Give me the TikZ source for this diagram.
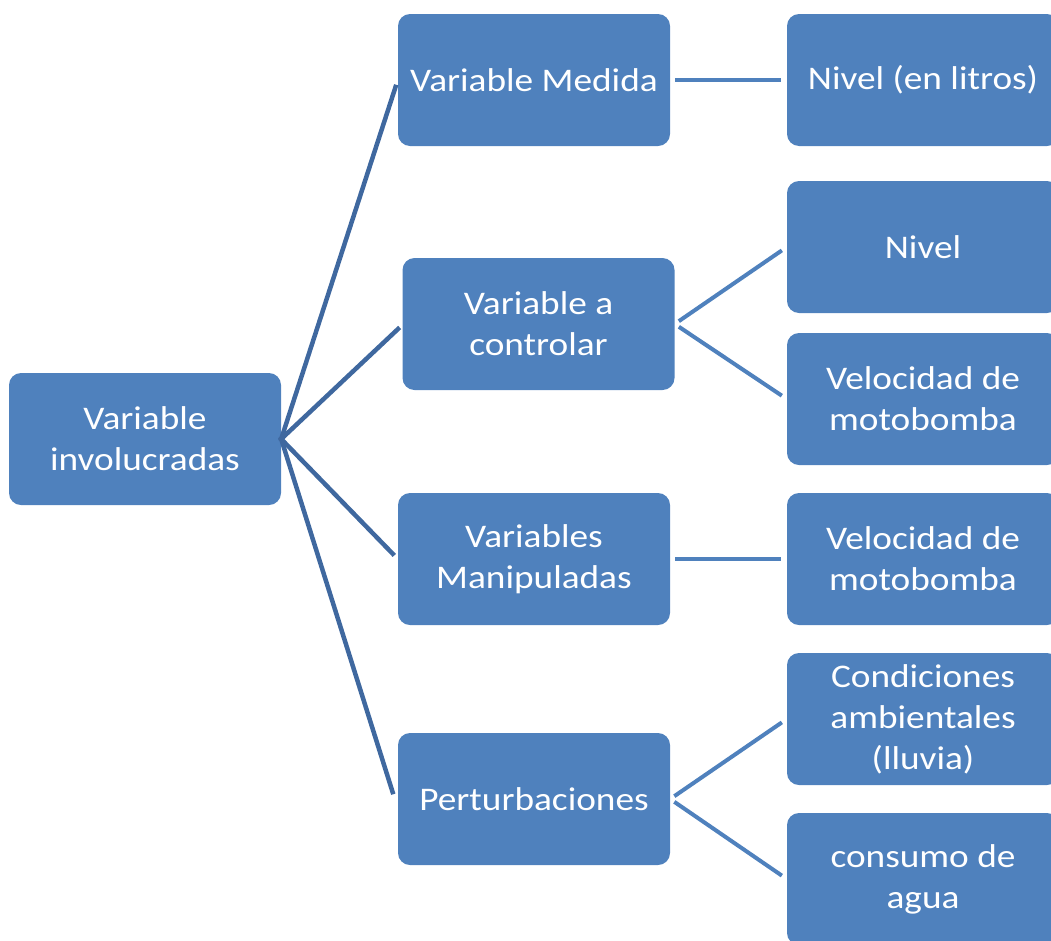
\documentclass[tikz,border=0pt]{standalone}
\usepackage{fontspec}
\setmainfont[FakeStretch=1.13]{Carlito}
\usetikzlibrary{positioning}
\definecolor{boxblue}{HTML}{4F81BD}
\definecolor{linkblue}{HTML}{3F689F}

\begin{document}
\begin{tikzpicture}[x=1pt, y=-1pt, font=\fontsize{33}{41}\selectfont,
  blk/.style={fill=boxblue, text=white, rounded corners=12pt, minimum width=272pt, minimum height=132pt, align=center, inner sep=0pt},
  lnk/.style={draw=linkblue, line width=4.5pt, shorten <=-2pt, shorten >=5pt},
  sub/.style={draw=boxblue, line width=4pt, shorten <=5pt, shorten >=6pt}]
  \clip (0,0) rectangle (1051,940);
  % main branch
  \node[blk] (root) at (145,439) {Variable\\involucradas};
  \node[blk] (med) at (534,80) {Variable Medida};
  \node[blk] (ctl) at (538.5,324) {Variable a\\controlar};
  \node[blk] (man) at (534,559) {Variables\\Manipuladas};
  \node[blk] (per) at (534,799) {Perturbaciones};
  % leaves
  \node[blk] (litros) at (923,80) {Nivel (en litros)};
  \node[blk] (nivel) at (923,247) {Nivel};
  \node[blk] (velA) at (923,399) {Velocidad de\\motobomba};
  \node[blk] (velB) at (923,559) {Velocidad de\\motobomba};
  \node[blk] (amb) at (923,719) {Condiciones\\ambientales\\(lluvia)};
  \node[blk] (agua) at (923,879) {consumo de\\agua};
  \draw[lnk] (root.east) -- (med.west);
  \draw[lnk] (root.east) -- ([xshift=1pt]ctl.west);
  \draw[lnk] (root.east) -- (man.west);
  \draw[lnk] (root.east) -- ([xshift=-3pt]per.west);
  \draw[sub] (med.east) -- (litros.west);
  \draw[sub] (ctl.east) -- (nivel.west); \draw[sub] (ctl.east) -- (velA.west);
  \draw[sub] (man.east) -- (velB.west);
  \draw[sub] (per.east) -- (amb.west); \draw[sub] (per.east) -- (agua.west);
\end{tikzpicture}
\end{document}
